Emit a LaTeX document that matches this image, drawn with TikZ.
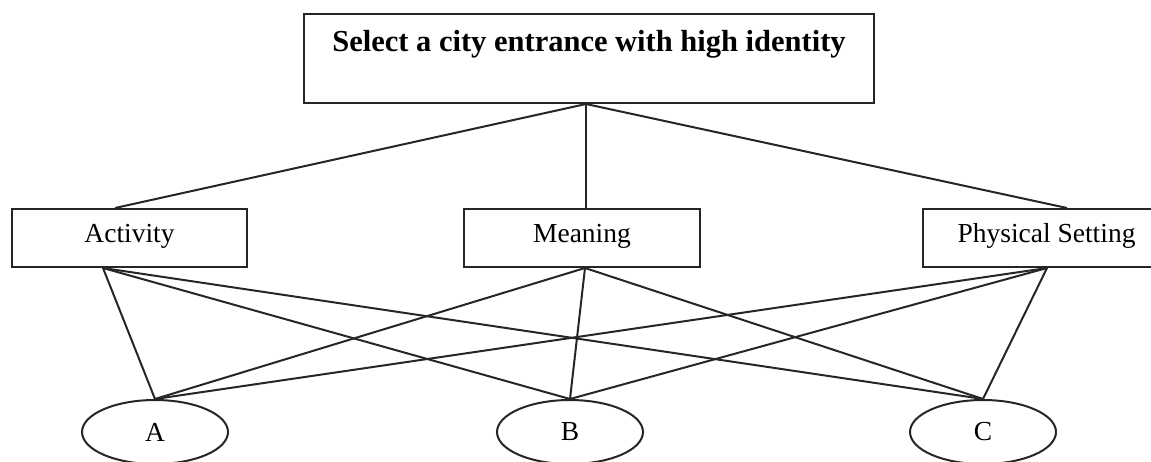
\documentclass[tikz,border=0pt]{standalone}
\usepackage{fontspec}
\setmainfont{Liberation Serif}
\usetikzlibrary{shapes.geometric}
\begin{document}
\begin{tikzpicture}[x=1pt,y=-1pt,
  box/.style={draw=black!85, line width=2pt, inner sep=0pt, font=\fontsize{27.5}{30}\selectfont,
    text height=33pt, text depth=25pt, minimum height=58pt},
  alt/.style={draw=black!85, ellipse, line width=2pt, inner sep=0pt, minimum width=146pt,
    minimum height=64pt, font=\fontsize{27.5}{30}\selectfont},
  link/.style={line width=2pt, black!85}]
\useasboundingbox (0,0) rectangle (1151,461);
\node[box, text height=37pt, text depth=52pt, minimum width=570pt,
  font=\bfseries\fontsize{30.5}{32}\selectfont] (goal) at (589,58.5)
  {Select a city entrance with high identity};
\node[box, minimum width=235pt] (act) at (129.5,238) {Activity};
\node[box, minimum width=236pt] (mean) at (582,238) {Meaning};
\node[box, minimum width=247pt] (phys) at (1046.5,238) {Physical Setting};
\node[alt] (A) at (155,432) {A};
\node[alt] (B) at (570,432) {B};
\node[alt] (C) at (983,432) {C};
\coordinate (goalB) at ([xshift=-3pt]goal.south);
\coordinate (actT) at ([xshift=-14.5pt]act.north);
\coordinate (meanT) at ([xshift=4pt]mean.north);
\coordinate (physT) at ([xshift=20.5pt]phys.north);
\coordinate (actB) at ([xshift=-26.5pt]act.south);
\coordinate (meanB) at ([xshift=3pt]mean.south);
\coordinate (physB) at ([xshift=0.5pt]phys.south);
\draw[link] (goalB) -- (actT);
\draw[link] (goalB) -- (meanT);
\draw[link] (goalB) -- (physT);
\foreach \s in {actB,meanB,physB}{
  \foreach \t in {A,B,C}{
    \draw[link] (\s) -- (\t.north);
  }
}
\end{tikzpicture}
\end{document}
